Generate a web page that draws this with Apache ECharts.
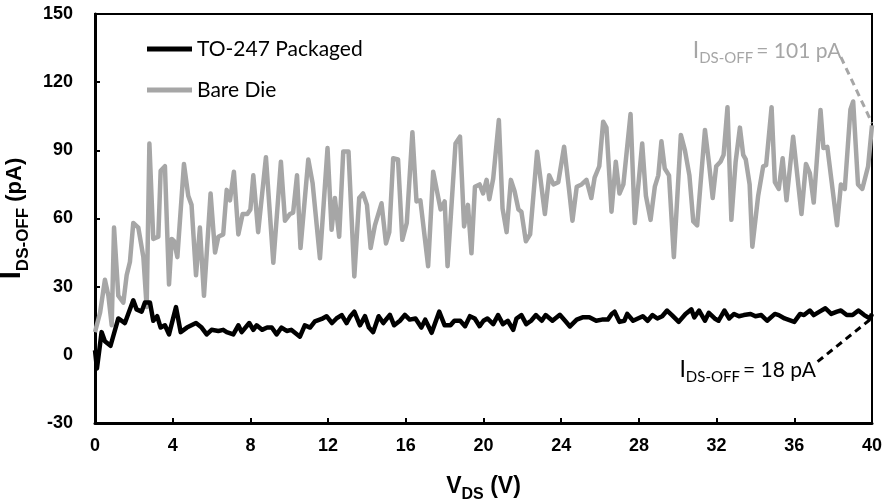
<!DOCTYPE html>
<html>
<head>
<meta charset="utf-8">
<script src="https://cdn.jsdelivr.net/npm/echarts@6/dist/echarts.min.js"></script>
<style>html,body{margin:0;padding:0;background:#fff}#c{width:883px;height:502px}</style>
</head>
<body>
<div id="c"></div>
<script>
// ---- data ----
const xTicks = [0, 4, 8, 12, 16, 20, 24, 28, 32, 36, 40];
const yTicks = [-30, 0, 30, 60, 90, 120, 150];

const bareV = [0,0.26,0.51,0.69,0.86,0.98,1.2,1.46,1.63,1.8,1.97,2.23,2.49,2.66,2.8,3.0,3.26,3.38,3.6,3.81,3.95,4.07,4.24,4.58,4.8,4.97,5.2,5.4,5.61,5.95,6.18,6.35,6.6,6.78,6.95,7.15,7.38,7.6,7.84,8.0,8.15,8.4,8.8,9.18,9.57,9.78,10.04,10.2,10.4,10.58,10.98,11.2,11.58,11.97,12.18,12.35,12.57,12.78,13.05,13.35,13.6,13.8,14.0,14.19,14.41,14.75,14.98,15.15,15.35,15.6,15.82,16.05,16.34,16.55,16.75,17.15,17.41,17.79,18.0,18.15,18.56,18.79,19.0,19.2,19.38,19.56,19.8,19.98,20.16,20.3,20.5,20.79,20.98,21.19,21.41,21.6,21.8,21.95,22.18,22.4,22.76,23.16,23.38,23.6,23.85,24.15,24.4,24.58,24.8,25.05,25.3,25.55,25.72,25.96,26.16,26.33,26.59,26.81,27.0,27.2,27.57,27.79,28.17,28.36,28.6,28.82,29.0,29.16,29.33,29.55,29.8,30.16,30.37,30.6,30.8,31.0,31.4,31.6,31.8,31.98,32.2,32.36,32.56,32.76,32.98,33.2,33.37,33.5,33.7,33.84,34.14,34.4,34.55,34.83,35.0,35.2,35.4,35.6,35.94,36.37,36.6,36.8,37.0,37.35,37.5,37.7,38.2,38.4,38.6,38.89,39.03,39.28,39.5,39.8,40.0];
const bareI = [10,18.5,33,26,13,56,26,23,35,41,58,56,43,21,93,51,52,81,83,31,51,50,43,84,70,66,35,56,26,71,45,52,53,72.6,68,80.6,53,62,62,64,79,54,87,40.5,85,59,62,62.6,79,47,86,75.7,42.5,91,55,69,52,89.5,89.5,34.5,69,71,66,47,57,66.7,49,54,86.5,86,50.6,58,98,67.5,68,39,80.6,64,67.5,39,93,96,56.5,66,44.7,74,75,71,77,68.5,77.6,103.4,64.5,54,77,72,64,63,50,53,89.4,62,79,75,76,91.6,73,59,74,75,77,69,78,83,102.6,100,63,85,71,75,106,58,93,70,59.4,74,79,94,82,79,43,96.8,90,79,58.7,57,99,85,69,83,85,88,109,59.4,85,100,88,86,75,47.6,70,83,83.5,109,76,73,86.5,68,96,62,84,80,67,107.8,91,91.5,57,75,73,108,111.5,75,73,83,101];

const pkgV = [0,0.1,0.34,0.51,0.8,1.2,1.54,1.97,2.14,2.4,2.57,2.83,3.0,3.2,3.38,3.6,3.81,4.17,4.41,4.73,5.2,5.49,5.75,6.0,6.35,6.6,6.78,7.12,7.38,7.55,7.94,8.15,8.32,8.6,8.86,9.1,9.35,9.6,9.87,10.1,10.55,10.8,11.07,11.32,11.67,11.92,12.2,12.43,12.7,12.95,13.15,13.35,13.64,13.9,14.1,14.32,14.6,14.84,15.18,15.4,15.7,15.95,16.2,16.5,16.8,17.0,17.33,17.72,18.0,18.3,18.5,18.8,19.05,19.3,19.55,19.8,20.0,20.2,20.5,20.75,21.0,21.25,21.53,21.7,21.95,22.2,22.45,22.7,23.0,23.2,23.55,23.93,24.2,24.45,24.8,25.1,25.45,25.8,26.1,26.4,26.6,26.75,27.0,27.25,27.4,27.7,27.95,28.2,28.45,28.7,28.95,29.2,29.45,29.7,30.05,30.4,30.7,30.85,31.1,31.4,31.6,31.9,32.1,32.4,32.65,32.9,33.15,33.4,33.75,34.0,34.3,34.6,35.0,35.2,35.5,36.0,36.3,36.5,36.8,37.0,37.3,37.6,37.9,38.2,38.4,38.7,39.0,39.3,39.6,39.9,40.0];
const pkgI = [2,-6,10,6,4,16,14,24,20,19,23,23,15,17,12,13,9,21,10,12,14,12,9,11,10.5,11,10,9,13,10,14,11,13,11,12,12,9,12,10.5,11,8,13,12,14.7,15.8,17,14,16,17.5,14,17,19,13,17,12,10,17,14,17.6,13,15,17.6,15.5,16,12,15.5,9.7,19,13,13,15,15,12.6,17,16,12.6,15,16,13.5,17.5,13.5,15,11,16,17.5,13.5,15,17.5,15,17.5,15,17.6,15,12.5,15.5,16.5,16.5,15,15.5,15.5,18,19,14.5,15,18,15,16,17,15,17.5,16,17,19.5,17.5,14.5,18,20,16.5,19.5,15,18.5,16,15,19.5,16,18,17,17.5,18,17,17.5,15,18,17.5,16,14.5,18,17.5,19.5,17.5,19,20.5,18,19,19.5,17.5,17.5,19.5,17.5,16,18];

const seriesNames = ['TO-247 Packaged', 'Bare Die'];
const annoBare = {text: '= 101 pA', at: [34.6, 134], lead: [[38.4, 131], [40, 102]]};
const annoPkg  = {text: '= 18 pA',  at: [33.6, -6.5], lead: [[37.2, -3], [39.9, 15.5]]};

// ---- chart ----
const zip = (xs, ys) => xs.map((x, i) => [x, ys[i]]);
const chart = echarts.init(document.getElementById('c'), null, {renderer: 'canvas'});
const boldFam = 'Liberation Sans, Arial';
const tickFont = {fontFamily: boldFam, fontWeight: 'bold', fontSize: 18, color: '#000'};
const annoFont = 'Lato';

function annoLabel(a, color) {
  return {
    show: true, position: 'inside', color: color,
    formatter: '{i|I}{s|DS-OFF}{t|' + a.text + '}',
    rich: {
      i: {fontFamily: annoFont, fontSize: 23, color: color, verticalAlign: 'bottom'},
      s: {fontFamily: annoFont, fontSize: 15, color: color, verticalAlign: 'bottom', padding: [0, 0, -4, 0]},
      t: {fontFamily: annoFont, fontSize: 21, color: color, verticalAlign: 'bottom', padding: [0, 0, 0, 3]}
    }
  };
}

chart.setOption({
  animation: false,
  backgroundColor: '#fff',
  grid: {left: 95, right: 11, top: 14, bottom: 79, show: true, borderColor: '#000', borderWidth: 2, backgroundColor: 'transparent', containLabel: false, outerBoundsMode: 'none'},
  legend: {
    left: 142, top: 33, orient: 'vertical', itemGap: 19,
    icon: 'rect', itemWidth: 45, itemHeight: 5,
    textStyle: {fontFamily: annoFont, fontSize: 21, color: '#000', lineHeight: 22},
    data: seriesNames
  },
  xAxis: {
    type: 'value', min: xTicks[0], max: xTicks[xTicks.length - 1], interval: 4,
    axisLine: {show: true, lineStyle: {color: '#000', width: 3}, onZero: false},
    axisTick: {show: true, inside: true, length: 5, lineStyle: {color: '#000', width: 2}},
    axisLabel: Object.assign({margin: 14}, tickFont),
    splitLine: {show: false},
    name: '{a|V}{b|DS}{a| (V)}', nameLocation: 'middle', nameGap: 52,
    nameTextStyle: {fontFamily: boldFam, fontWeight: 'bold', fontSize: 22, color: '#000', rich: {
      a: {fontFamily: boldFam, fontWeight: 'bold', fontSize: 23, color: '#000', verticalAlign: 'bottom'},
      b: {fontFamily: boldFam, fontWeight: 'bold', fontSize: 16, color: '#000', verticalAlign: 'bottom', padding: [0, 0, -5, 0]}
    }}
  },
  yAxis: {
    type: 'value', min: yTicks[0], max: yTicks[yTicks.length - 1], interval: 30,
    axisLine: {show: true, lineStyle: {color: '#000', width: 3}, onZero: false},
    axisTick: {show: true, inside: true, length: 5, lineStyle: {color: '#000', width: 2}},
    axisLabel: Object.assign({margin: 22}, tickFont),
    splitLine: {show: false},
    name: '{i|I}{b|DS-OFF}{a| (pA)}', nameLocation: 'middle', nameGap: 60, nameRotate: 90,
    nameTextStyle: {fontFamily: boldFam, fontWeight: 'bold', fontSize: 22, color: '#000', rich: {
      i: {fontFamily: boldFam, fontWeight: 'bold', fontSize: 29, color: '#000', verticalAlign: 'bottom'},
      a: {fontFamily: boldFam, fontWeight: 'bold', fontSize: 22, color: '#000', verticalAlign: 'bottom'},
      b: {fontFamily: boldFam, fontWeight: 'bold', fontSize: 17, color: '#000', verticalAlign: 'bottom', padding: [0, 0, -6, 0]}
    }}
  },
  series: [
    {
      name: seriesNames[1], type: 'line', data: zip(bareV, bareI),
      showSymbol: false, symbol: 'none', color: '#a6a6a6',
      lineStyle: {color: '#a6a6a6', width: 4.5, join: 'round'}, z: 2,
      markLine: {silent: true, symbol: ['none', 'none'], label: {show: false},
        lineStyle: {color: '#a6a6a6', type: [7, 5], width: 3},
        data: [[{coord: annoBare.lead[0]}, {coord: annoBare.lead[1]}]]},
      markPoint: {silent: true, symbol: 'circle', symbolSize: 0,
        data: [{coord: annoBare.at, label: annoLabel(annoBare, '#a6a6a6')}]}
    },
    {
      name: seriesNames[0], type: 'line', data: zip(pkgV, pkgI),
      showSymbol: false, symbol: 'none', color: '#000',
      lineStyle: {color: '#000', width: 4.5, join: 'round'}, z: 3,
      markLine: {silent: true, symbol: ['none', 'none'], label: {show: false},
        lineStyle: {color: '#000', type: [7, 5], width: 3},
        data: [[{coord: annoPkg.lead[0]}, {coord: annoPkg.lead[1]}]]},
      markPoint: {silent: true, symbol: 'circle', symbolSize: 0,
        data: [{coord: annoPkg.at, label: annoLabel(annoPkg, '#000')}]}
    }
  ]
});
</script>
</body>
</html>
